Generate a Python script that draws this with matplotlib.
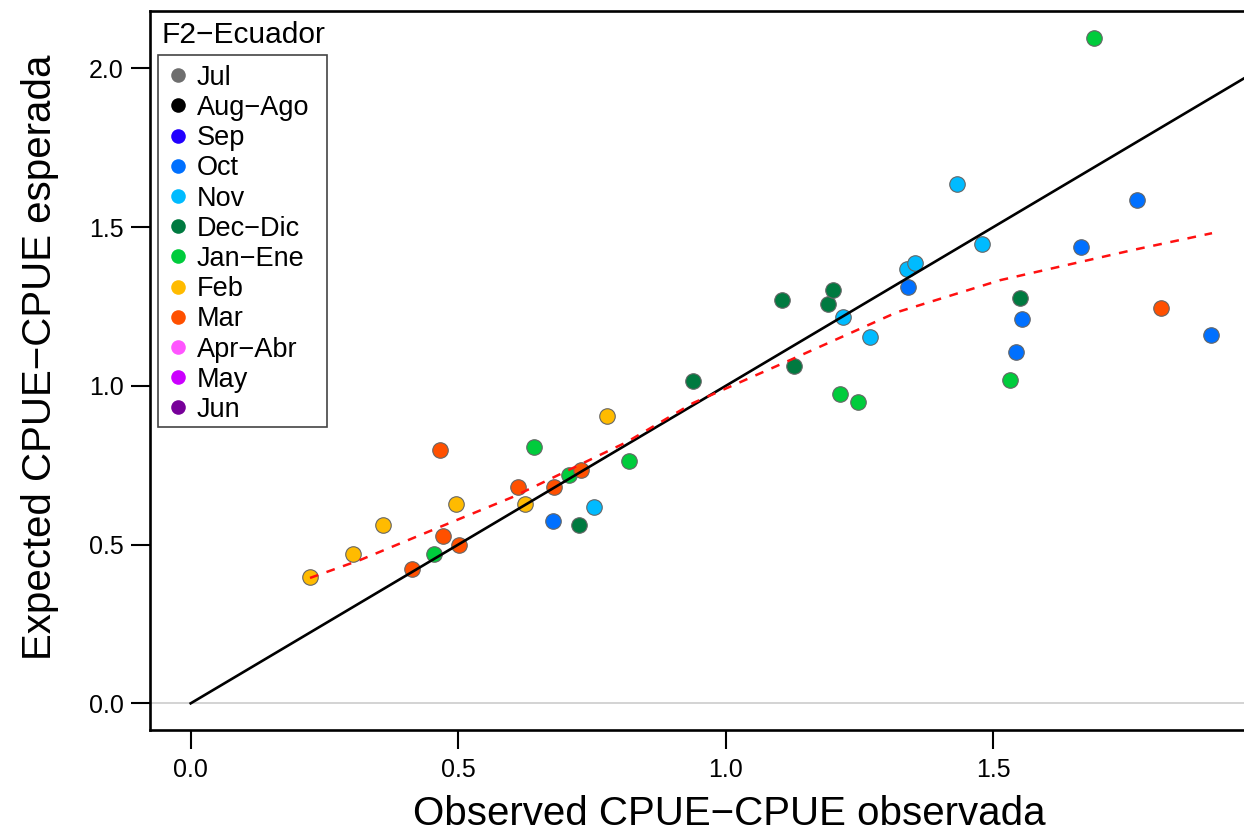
# observed vs expected CPUE by month, F2 Ecuador

import numpy as np
import matplotlib
matplotlib.use("Agg")
import matplotlib.pyplot as plt
from matplotlib.lines import Line2D
from matplotlib.patches import Rectangle

plt.rcParams['font.family'] = ['Liberation Sans', 'DejaVu Sans']

# month legend (all months listed, only some have data)
months = ["Jul", "Aug\u2212Ago", "Sep", "Oct", "Nov", "Dec\u2212Dic",
          "Jan\u2212Ene", "Feb", "Mar", "Apr\u2212Abr", "May", "Jun"]
month_colors = ["#6e6e6e", "#000000", "#2200ff", "#0070ff", "#00bbff", "#007a40",
                "#00cc3c", "#ffbb00", "#ff5000", "#ff55ff", "#cc00ff", "#770099"]

# observed / expected by month
oct_obs = [0.677, 1.340, 1.543, 1.553, 1.664, 1.768, 1.907]
oct_exp = [0.575, 1.310, 1.107, 1.210, 1.439, 1.584, 1.161]
nov_obs = [0.754, 1.219, 1.269, 1.338, 1.353, 1.432, 1.480]
nov_exp = [0.618, 1.218, 1.153, 1.368, 1.387, 1.635, 1.448]
dec_obs = [0.726, 0.938, 1.106, 1.191, 1.200, 1.128, 1.551]
dec_exp = [0.562, 1.016, 1.271, 1.257, 1.302, 1.062, 1.277]
jan_obs = [0.454, 0.642, 0.708, 0.820, 1.213, 1.247, 1.531, 1.688]
jan_exp = [0.470, 0.806, 0.718, 0.764, 0.974, 0.950, 1.019, 2.096]
feb_obs = [0.223, 0.303, 0.359, 0.495, 0.625, 0.778]
feb_exp = [0.398, 0.469, 0.561, 0.627, 0.629, 0.905]
mar_obs = [0.414, 0.466, 0.471, 0.502, 0.611, 0.679, 0.730, 1.813]
mar_exp = [0.424, 0.798, 0.527, 0.498, 0.680, 0.682, 0.734, 1.245]

# smoother through the points
smooth_x = [0.223, 0.316, 0.442, 0.602, 0.815, 0.939, 1.120, 1.320, 1.513, 1.761, 1.909]
smooth_y = [0.395, 0.451, 0.539, 0.650, 0.823, 0.946, 1.081, 1.232, 1.333, 1.428, 1.481]

xticks = [0.0, 0.5, 1.0, 1.5]
yticks = [0.0, 0.5, 1.0, 1.5, 2.0]

W, H = 1244, 832
fig = plt.figure(figsize=(W / 100, H / 100), dpi=100)
ax = fig.add_axes([149.5 / W, 1 - 730 / H, 1111.2 / W, 718.7 / H])
ax.set_xlim(-0.077, 2.0)
ax.set_ylim(-0.084, 2.180)

ax.axhline(0, color="#cccccc", lw=1.2, zorder=1)

series = [(oct_obs, oct_exp, 3), (nov_obs, nov_exp, 4), (dec_obs, dec_exp, 5),
          (jan_obs, jan_exp, 6), (feb_obs, feb_exp, 7), (mar_obs, mar_exp, 8)]
for xo, ye, ci in series:
    ax.scatter(xo, ye, s=125, color=month_colors[ci], edgecolors="#666666",
               linewidths=0.8, zorder=2)

# 1:1 line and smoother on top of the points
ax.plot([0, 2.2], [0, 2.2], color="black", lw=1.9, zorder=3)
ax.plot(smooth_x, smooth_y, color="#ff1010", lw=1.8, ls=(0, (3.5, 3.5)), zorder=4)

ax.set_xticks(xticks)
ax.set_xticklabels(["%.1f" % v for v in xticks])
ax.set_yticks(yticks)
ax.set_yticklabels(["%.1f" % v for v in yticks])
ax.tick_params(axis="both", direction="out", length=13.5, width=1.5, labelsize=18)
ax.tick_params(axis="x", pad=7)
ax.tick_params(axis="y", pad=5)
for s in ax.spines.values():
    s.set_linewidth(1.9)

ax.set_xlabel("Observed CPUE\u2212CPUE observada", fontsize=29)
ax.xaxis.set_label_coords(0.522, -0.091)
ax.set_ylabel("Expected CPUE\u2212CPUE esperada", fontsize=29)
ax.yaxis.set_label_coords(-0.081, 0.519)

fig.text(161.7 / W, 1 - 43 / H, "F2\u2212Ecuador", fontsize=21.5, ha="left", va="baseline")

# legend box drawn separately so its size is fixed
box = Rectangle((158.3 / W, 1 - 426.7 / H), (326.7 - 158.3) / W, (426.7 - 55) / H,
                transform=fig.transFigure, facecolor="white", edgecolor="#444444",
                lw=1.2, zorder=5)
ax.add_patch(box)
box.set_clip_on(False)

handles = [Line2D([], [], ls="none", marker="o", markersize=10.5, color=c, markeredgewidth=0)
           for c in month_colors]
leg = ax.legend(handles, months, loc="upper left", bbox_to_anchor=(160 / W, 1 - 58 / H),
                bbox_transform=fig.transFigure, borderaxespad=0, fontsize=19.5,
                labelspacing=0.155, handlelength=0.8, handletextpad=0.3,
                borderpad=0.25, frameon=False)
leg.set_zorder(6)

fig.savefig("out.png", dpi=100)
